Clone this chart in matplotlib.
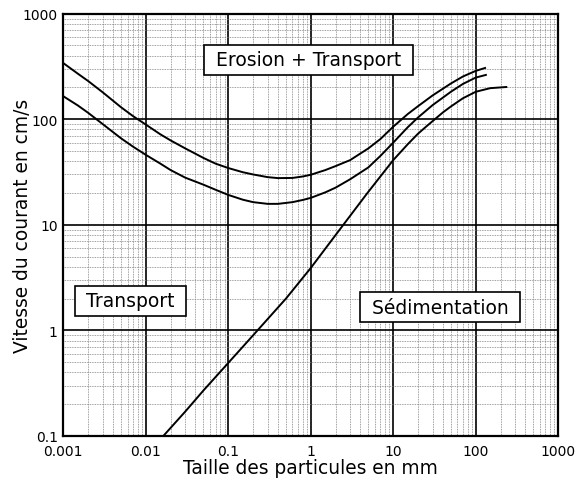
import numpy as np
import matplotlib
matplotlib.use("Agg")
import matplotlib.pyplot as plt
from matplotlib.ticker import LogLocator, FixedLocator, FixedFormatter

# particle size (mm) and current speed (cm/s)
erosion_upper_x = [0.001, 0.0015, 0.002, 0.003, 0.005, 0.007, 0.01, 0.015, 0.02, 0.03,
                   0.05, 0.07, 0.1, 0.15, 0.2, 0.3, 0.4, 0.6, 0.8, 1,
                   1.5, 2, 3, 5, 7, 10, 15, 20, 30, 50, 70, 100, 130]
erosion_upper_y = [340, 270, 230, 180, 130, 107, 89, 72, 63, 53,
                   43, 38, 34.5, 31.5, 30, 28.3, 27.7, 27.8, 28.7, 29.8,
                   33, 36, 41, 53, 65, 85, 112, 133, 168, 218, 254, 287, 306]

erosion_lower_x = [0.001, 0.0015, 0.002, 0.003, 0.005, 0.007, 0.01, 0.015, 0.02, 0.03,
                   0.05, 0.07, 0.1, 0.15, 0.2, 0.3, 0.4, 0.6, 0.8, 1,
                   1.5, 2, 3, 5, 7, 10, 15, 20, 30, 50, 70, 100, 133]
erosion_lower_y = [165, 135, 115, 90, 66, 55, 46, 38, 33, 28,
                   24, 21.5, 19.2, 17.3, 16.4, 15.8, 15.8, 16.4, 17.2, 18,
                   20.3, 22.5, 27, 35, 45, 60, 84, 104, 136, 182, 216, 248, 263]

sediment_x = [0.0163, 0.03, 0.05, 0.081, 0.15, 0.226, 0.5, 1, 2, 4.86,
              10, 15, 20, 25, 31, 40, 50, 70, 100, 150, 235]
sediment_y = [0.1, 0.17, 0.27, 0.41, 0.7, 1, 2.0, 3.9, 8, 20,
              41, 58, 73, 85, 98, 116, 132, 158, 182, 197, 202]

x_ticks = [0.001, 0.01, 0.1, 1, 10, 100, 1000]
x_labels = ["0.001", "0.01", "0.1", "1", "10", "100", "1000"]
y_ticks = [0.1, 1, 10, 100, 1000]
y_labels = ["0.1", "1", "10", "100", "1000"]

fig = plt.figure(figsize=(5.76, 4.81), dpi=100)
ax = fig.add_axes([0.11, 0.0915, 0.859, 0.878])
ax.set_xscale("log")
ax.set_yscale("log")
ax.set_xlim(0.001, 1000)
ax.set_ylim(0.1, 1000)

ax.xaxis.set_major_locator(FixedLocator(x_ticks))
ax.xaxis.set_major_formatter(FixedFormatter(x_labels))
ax.yaxis.set_major_locator(FixedLocator(y_ticks))
ax.yaxis.set_major_formatter(FixedFormatter(y_labels))
ax.xaxis.set_minor_locator(LogLocator(base=10, subs=np.arange(2, 10)))
ax.yaxis.set_minor_locator(LogLocator(base=10, subs=np.arange(2, 10)))

ax.grid(which="major", color="black", linewidth=1.2)
ax.grid(which="minor", color="0.5", linewidth=0.6, linestyle=(0, (1, 1)))
ax.tick_params(which="both", length=0, labelsize=10)
ax.tick_params(axis="x", pad=5.5)
ax.tick_params(axis="y", pad=4)
for s in ax.spines.values():
    s.set_linewidth(1.6)

ax.plot(erosion_upper_x, erosion_upper_y, color="black", lw=1.4)
ax.plot(erosion_lower_x, erosion_lower_y, color="black", lw=1.4)
ax.plot(sediment_x, sediment_y, color="black", lw=1.4)

box = dict(boxstyle="square,pad=0.3", fc="white", ec="black", lw=1.2)
ax.text(0.94, 365, " Erosion + Transport ", ha="center", va="center", fontsize=13.5, bbox=box)
ax.text(0.0065, 1.9, " Transport ", ha="center", va="center", fontsize=13.5, bbox=box)
ax.text(37, 1.66, " Sédimentation ", ha="center", va="center", fontsize=13.5, bbox=box)

ax.set_xlabel("Taille des particules en mm", fontsize=13.4)
ax.set_ylabel("Vitesse du courant en cm/s", fontsize=13.4)
ax.xaxis.set_label_coords(0.5, -0.052)
ax.yaxis.set_label_coords(-0.064, 0.5)

fig.savefig("out.png", dpi=100)
